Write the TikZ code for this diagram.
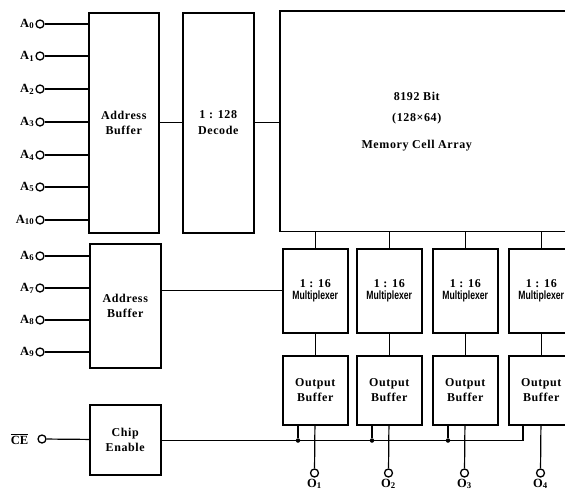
\documentclass[tikz,border=0pt]{standalone}
\usepackage{fontspec}
\setmainfont{Liberation Serif}
\setsansfont{Liberation Sans}
\usetikzlibrary{positioning,calc}

\newcommand{\blkfont}{\fontsize{12}{14.5}\selectfont\bfseries\addfontfeature{LetterSpace=5}}
\newcommand{\muxname}{\scalebox{0.72}[1]{\sffamily\bfseries\fontsize{12}{12}\selectfont\addfontfeature{LetterSpace=0}Multiplexer}}

\begin{document}
\begin{tikzpicture}[x=1pt, y=-1pt,
  blk/.style={draw, line width=1.5pt, align=center, inner sep=0pt, anchor=north west, font=\blkfont},
  pin/.style={circle, draw, line width=1.3pt, minimum size=8pt, inner sep=0pt},
  pinlbl/.style={font=\fontsize{12.5}{14}\selectfont\bfseries, inner sep=1pt},
  dot/.style={circle, fill, minimum size=4.5pt, inner sep=0pt},
  wire/.style={line width=1.2pt}
]
\useasboundingbox (0,0) rectangle (565,491);
\clip (0,0) rectangle (565,491);

\node[blk, minimum width=70pt, minimum height=220pt] (addrbufa) at (88,12) {Address\\Buffer};
\node[blk, minimum width=71pt, minimum height=220pt] (decode) at (182,12) {1 : 128\\[1pt]Decode};
\node[blk, draw=none, minimum width=272pt, minimum height=219pt] (memory) at (280,11)
  {8192 Bit\\[7pt](128×64)\\[12pt]Memory Cell Array};
\draw[line width=1.5pt] (memory.north west) rectangle ($(memory.south east)+(40,0)$);

\node[blk, minimum width=71pt, minimum height=124pt] (addrbufb) at (89,243) {Address\\Buffer};
\node[blk, minimum width=71pt, minimum height=70pt] (chipen) at (89,404) {Chip\\Enable};

\foreach \n/\y in {0/24, 1/56, 2/89, 3/122, 4/155, 5/187, 10/220} {
  \node[pin, label={[pinlbl]left:A\textsubscript{\n}}] (pa\n) at (40,\y) {};
  \draw[wire] (pa\n) -- (pa\n -| addrbufa.west);
}
\foreach \n/\y in {6/256, 7/288, 8/320, 9/352} {
  \node[pin, label={[pinlbl]left:A\textsubscript{\n}}] (pa\n) at (40,\y) {};
  \draw[wire] (pa\n) -- (pa\n -| addrbufb.west);
}
\node[pin, label={[pinlbl, label distance=8pt]left:$\overline{\hbox{CE}}$}] (pce) at (42,439) {};
\draw[wire] (pce) -- (chipen);

\draw[wire] (addrbufa) -- (decode);
\draw[wire] (decode.east) -- (decode.east -| memory.west);

\foreach \i/\x in {1/282, 2/356, 3/432, 4/508} {
  \node[blk, minimum width=65pt, minimum height=84pt] (mux\i) at (\x,248) {1 : 16\\[-3pt]\muxname};
  \node[blk, minimum width=65pt, minimum height=69pt] (outbuf\i) at (\x,355) {Output\\Buffer};
  \node[pin, label={[pinlbl]below:O\textsubscript{\i}}] (po\i) at (\x+32.5,473) {};
  \draw[wire] (mux\i.north |- memory.south) -- (mux\i);
  \draw[wire] (mux\i) -- (outbuf\i);
  \draw[wire] (outbuf\i) -- (po\i);
}
\draw[wire] (addrbufb.east |- mux1.west) -- (mux1.west);

\foreach \i in {1,2,3} {
  \node[dot] (cej\i) at ($(outbuf\i.south west)+(16,15)$) {};
  \draw[wire] (cej\i) -- (cej\i |- outbuf\i.south);
}
\coordinate (cend) at ($(outbuf4.south west)+(15,15)$);
\draw[wire] (chipen.east |- cend) -- (cend) -- (cend |- outbuf4.south);

\end{tikzpicture}
\end{document}
